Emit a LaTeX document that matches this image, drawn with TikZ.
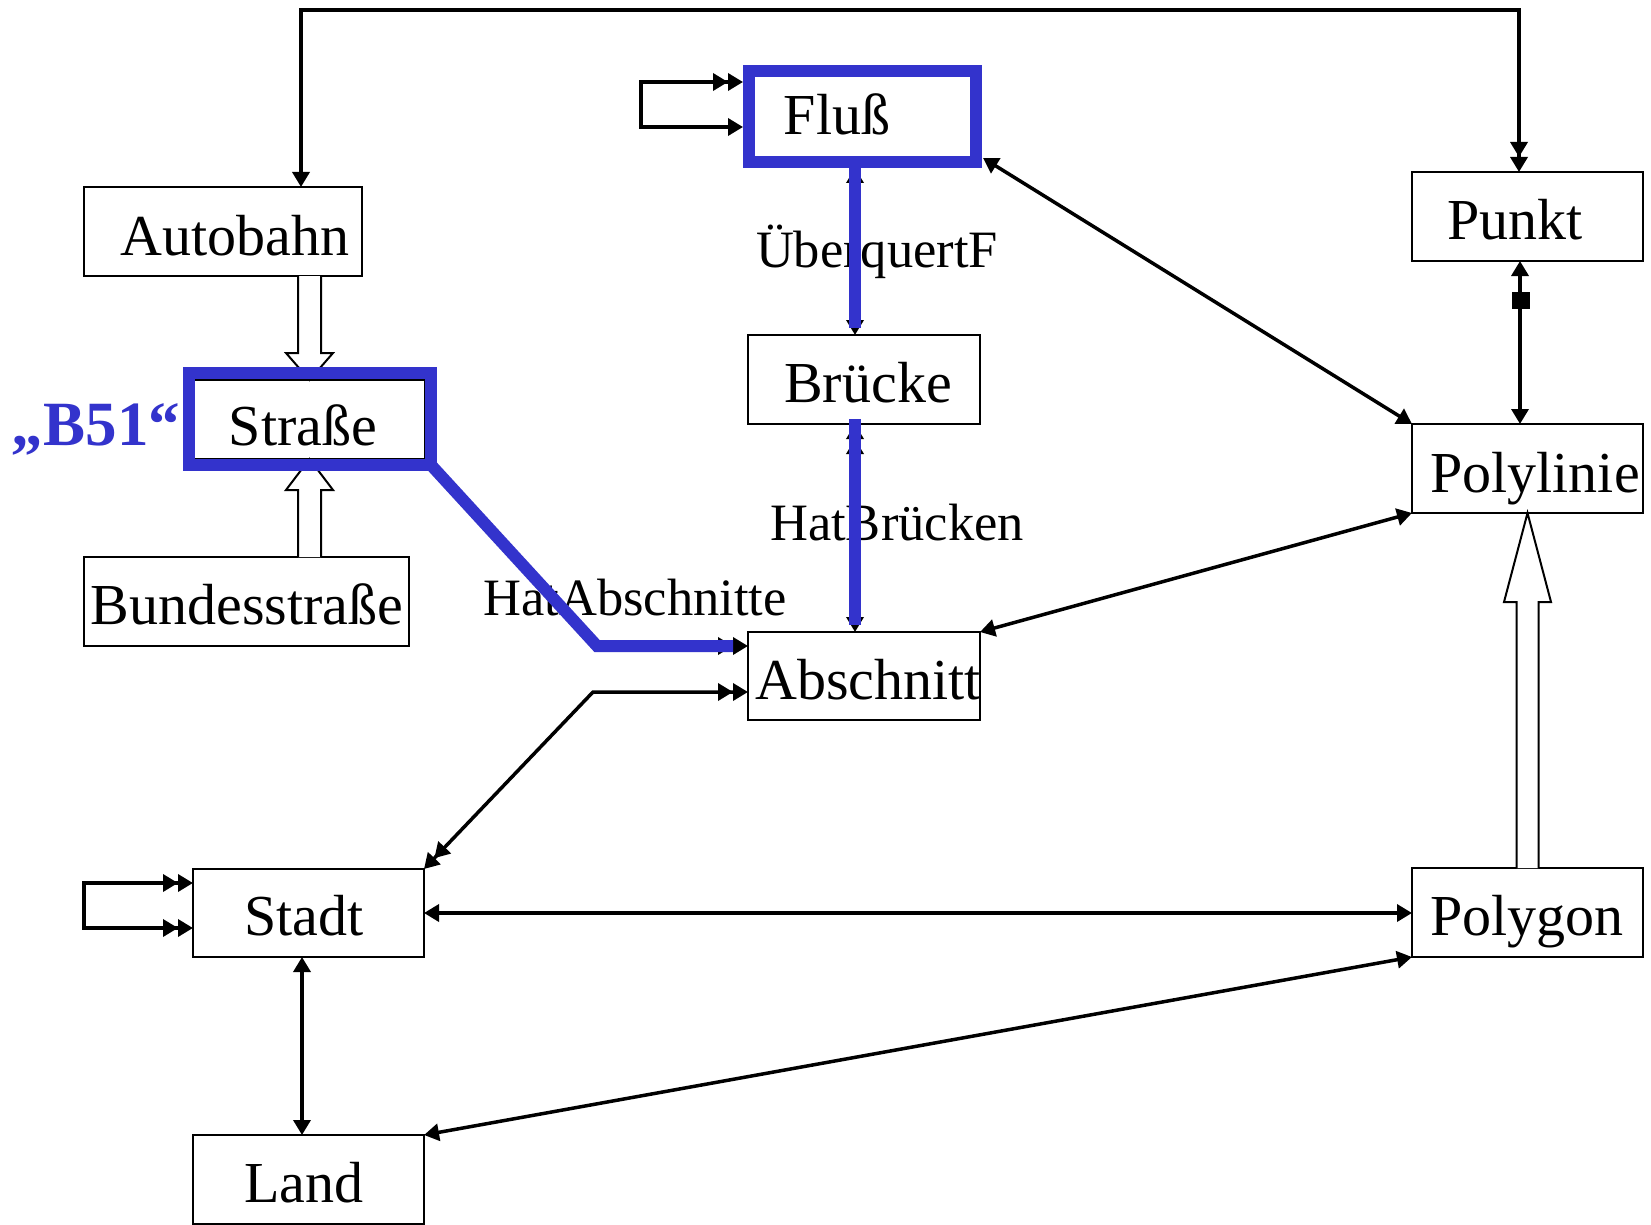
\documentclass[tikz,border=0pt]{standalone}
\usepackage{fontspec}
\setmainfont{Liberation Serif}
\usetikzlibrary{arrows.meta,calc}
\definecolor{hlblue}{RGB}{51,51,204}
\begin{document}
\begin{tikzpicture}[x=1pt,y=-1pt,
  >={Triangle[length=15pt,width=17pt]},
  box/.style={draw, line width=2pt, fill=white, inner sep=0pt, outer sep=0pt},
  boxtext/.style={anchor=base, inner sep=0pt, font=\fontsize{58}{60}\selectfont},
  rolelabel/.style={anchor=base, inner sep=0pt, font=\fontsize{52.5}{54}\selectfont},
  conn/.style={line width=3.5pt},
  hollow/.style={draw, line width=2pt, fill=white},
  hl/.style={draw=hlblue, line width=12pt, inner sep=0pt, outer sep=6pt},
  hlline/.style={draw=hlblue, line width=12pt}]

% canvas
\fill[white] (0,0) rectangle (1651,1225);
\useasboundingbox (0,0) rectangle (1651,1225);

% classes
\node[box, minimum width=278pt, minimum height=89pt] (autobahn)  at (223,231.5)   {};
\node[box, minimum width=231pt, minimum height=79pt] (strasse)   at (309.5,419.5) {};
\node[box, minimum width=325pt, minimum height=89pt] (bundes)    at (246.5,601.5) {};
\node[box, minimum width=227pt, minimum height=91pt] (fluss)     at (862.5,116.5) {};
\node[box, minimum width=232pt, minimum height=89pt] (bruecke)   at (864,379.5)   {};
\node[box, minimum width=232pt, minimum height=88pt] (abschnitt) at (864,676)     {};
\node[box, minimum width=231pt, minimum height=89pt] (punkt)     at (1527.5,216.5) {};
\node[box, minimum width=231pt, minimum height=89pt] (polylinie) at (1527.5,468.5) {};
\node[box, minimum width=231pt, minimum height=89pt] (polygon)   at (1527.5,912.5) {};
\node[box, minimum width=231pt, minimum height=88pt] (stadt)     at (308.5,913)   {};
\node[box, minimum width=231pt, minimum height=89pt] (land)      at (308.5,1179.5) {};

% class names
\node[boxtext] (autobahn-t)  at (235,255)  {Autobahn};
\node[boxtext] (strasse-t)   at (303,445)  {Straße};
\node[boxtext] (bundes-t)    at (247,624)  {Bundesstraße};
\node[boxtext] (fluss-t)     at (837,135)  {Fluß};
\node[boxtext] (bruecke-t)   at (868,402)  {Brücke};
\node[boxtext] (abschnitt-t) at (868,699)  {Abschnitt};
\node[boxtext] (punkt-t)     at (1515,239) {Punkt};
\node[boxtext] (polylinie-t) at (1535,492) {Polylinie};
\node[boxtext] (polygon-t)   at (1527,935) {Polygon};
\node[boxtext] (stadt-t)     at (304,935)  {Stadt};
\node[boxtext] (land-t)      at (304,1202) {Land};

% generalisations (hollow block arrows)
\draw[hollow] ($(autobahn.south -| strasse.north)+(-11.5,0)$) -- ($(strasse.north)+(-11.5,-27)$)
  -- ($(strasse.north)+(-23.5,-27)$) -- (strasse.north) -- ($(strasse.north)+(23.5,-27)$)
  -- ($(strasse.north)+(11.5,-27)$) -- ($(autobahn.south -| strasse.north)+(11.5,0)$);
\draw[hollow] ($(bundes.north -| strasse.south)+(-11.5,0)$) -- ($(strasse.south)+(-11.5,31)$)
  -- ($(strasse.south)+(-23.5,31)$) -- (strasse.south) -- ($(strasse.south)+(23.5,31)$)
  -- ($(strasse.south)+(11.5,31)$) -- ($(bundes.north -| strasse.south)+(11.5,0)$);
\draw[hollow] ($(polygon.north)+(-11,0)$) -- ($(polylinie.south)+(-11,89)$)
  -- ($(polylinie.south)+(-23.5,89)$) -- (polylinie.south) -- ($(polylinie.south)+(23.5,89)$)
  -- ($(polylinie.south)+(11,89)$) -- ($(polygon.north)+(11,0)$);

% route points
\coordinate (t1) at (301,10);
\coordinate (t2) at (1519,10);
\coordinate (f1) at (641,82);
\coordinate (f2) at (641,127);
\coordinate (s1) at (84,883);
\coordinate (s2) at (84,928);
\coordinate (xf) at (855,0);
\coordinate (xp) at (1520,0);
\coordinate (xs) at (302,0);
\coordinate (sa) at (597,646);
\coordinate (as) at (593,692);

% associations
\draw[conn, <->>] (autobahn.north -| t1) -- (t1) -- (t2) -- (punkt.north -| t2);
\draw[conn, <<->] ($(fluss.west |- f1)+(-6,0)$) -- (f1) -- (f2) -- ($(fluss.west |- f2)+(-6,0)$);
\draw[conn, <<->>] (stadt.west |- s1) -- (s1) -- (s2) -- (stadt.west |- s2);
\draw[conn, <->] ($(fluss.south -| xf)+(0,6)$) -- (bruecke.north -| xf);
\draw[conn, <<->] (bruecke.south -| xf) -- (abschnitt.north -| xf);
\draw[conn, ->>] (strasse.south east) -- (sa) -- (abschnitt.west |- sa);
\draw[conn, <<->>] (abschnitt.west |- as) -- (as) -- (stadt.north east);
\draw[conn, <->] ($(fluss.south east)+(7,-4)$) -- (polylinie.north west);
\draw[conn, <->] (punkt.south -| xp) -- (polylinie.north -| xp);
\node[fill, inner sep=0pt, minimum width=18pt, minimum height=17pt] (agg) at (1521,300) {};
\draw[conn, <->] (polylinie.south west) -- (abschnitt.north east);
\draw[conn, <->] (stadt.east) -- (polygon.west |- stadt.east);
\draw[conn, <->] (land.north east) -- (polygon.south west);
\draw[conn, <->] (stadt.south -| xs) -- (land.north -| xs);

% role names
\node[rolelabel] (lbl-f) at (877,267) {ÜberquertF};
\node[rolelabel] (lbl-b) at (897,540) {HatBrücken};
\node[rolelabel] (lbl-a) at (635,615) {HatAbschnitte};

% highlighted path
\node[hl, minimum width=242pt, minimum height=92pt] (strasse-hl) at (310,419) {};
\node[hl, minimum width=227pt, minimum height=91pt] (fluss-hl) at (862.5,116.5) {};
\draw[hlline] (fluss-hl.south -| xf) -- ($(bruecke.north -| xf)+(0,-7)$);
\draw[hlline] ($(bruecke.south -| xf)+(0,-5)$) -- ($(abschnitt.north -| xf)+(0,-7)$);
\draw[hlline] ($(strasse-hl.south east)+(-6,-6)$) -- (sa) -- ($(abschnitt.west |- sa)+(-15,0)$);
\node[anchor=base, inner sep=0pt, text=hlblue, font=\fontsize{63}{65}\selectfont\bfseries] (b51) at (96,445) {„B51“};

\end{tikzpicture}
\end{document}
